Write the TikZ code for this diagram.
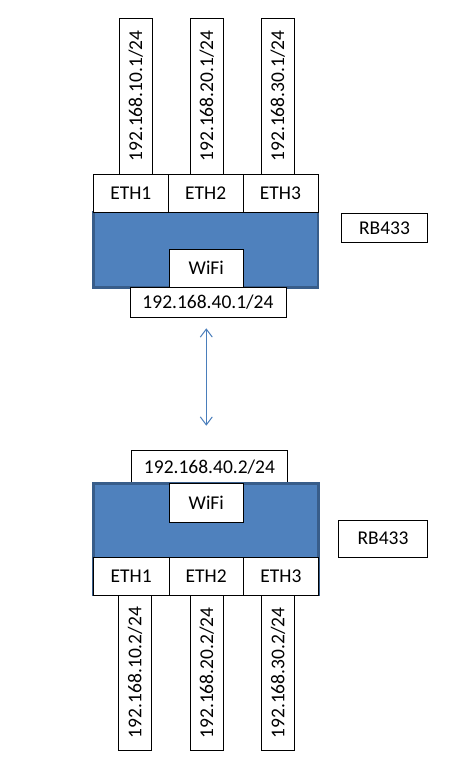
\documentclass[tikz,border=0pt]{standalone}
\usepackage{fontspec}
\setmainfont{Carlito}
\usetikzlibrary{arrows.meta}
\definecolor{boxblue}{HTML}{4F81BD}
\definecolor{boxedge}{HTML}{385D8A}
\definecolor{arrowblue}{HTML}{4A7EBB}
\begin{document}
\begin{tikzpicture}[x=1pt,y=-1pt,
  wbox/.style={draw=black,line width=0.8pt,fill=white,rectangle,inner sep=0pt,font=\fontsize{19.5}{21}\selectfont},
  vbox/.style={wbox,minimum width=33pt,minimum height=156pt},
  vtext/.style={rotate=90,font=\fontsize{19.5}{21}\selectfont},
  ethbox/.style={wbox,minimum height=38pt},
  blue/.style={draw=boxedge,line width=2.5pt,fill=boxblue}]
\useasboundingbox (0,0) rectangle (462,777);
\fill[white] (0,0) rectangle (462,777);

% ---------- top router ----------
\node[vbox] (tv1) at (135.8,96) {};
\node[vtext] (tt1) at (tv1.center) {192.168.10.1/24};
\node[vbox] (tv2) at (206.8,96) {};
\node[vtext] (tt2) at (tv2.center) {192.168.20.1/24};
\node[vbox] (tv3) at (277.8,96) {};
\node[vtext] (tt3) at (tv3.center) {192.168.30.1/24};

\path[blue] (93.3,212) rectangle (318,287.3);
\node[ethbox,minimum width=75pt] (te1) at (130.8,193) {ETH1};
\node[ethbox,minimum width=74.7pt] (te2) at (205.7,193) {ETH2};
\node[ethbox,minimum width=75pt] (te3) at (280.5,193) {ETH3};
\node[wbox,minimum width=74pt,minimum height=38pt] (twifi) at (206.3,268) {WiFi};
\node[wbox,minimum width=156pt,minimum height=30pt] (tip) at (208,302) {192.168.40.1/24};
\node[wbox,minimum width=86pt,minimum height=29pt] (trb) at (384.5,228) {RB433};

% ---------- bottom router ----------
\node[wbox,minimum width=156pt,minimum height=33pt] (bip) at (209.5,466.7) {192.168.40.2/24};
\path[blue] (93.3,483.3) rectangle (318.7,595);
\node[wbox,minimum width=74pt,minimum height=39pt] (bwifi) at (206.3,502.5) {WiFi};
\node[ethbox,minimum width=75.7pt] (be1) at (131.15,576) {ETH1};
\node[ethbox,minimum width=74.3pt] (be2) at (206.15,576) {ETH2};
\node[ethbox,minimum width=75.4pt] (be3) at (281,576) {ETH3};
\node[vbox,minimum height=155pt] (bv1) at (135,672.5) {};
\node[vtext] (bt1) at (bv1.center) {192.168.10.2/24};
\node[vbox,minimum height=155pt] (bv2) at (206.8,673) {};
\node[vtext] (bt2) at (bv2.center) {192.168.20.2/24};
\node[vbox,minimum height=155pt] (bv3) at (278,673) {};
\node[vtext] (bt3) at (bv3.center) {192.168.30.2/24};
\node[wbox,minimum width=89pt,minimum height=37pt] (brb) at (383,538.7) {RB433};

% ---------- link ----------
\coordinate (la) at (206.3,328.3);
\coordinate (lb) at (206.3,425.7);
\draw[arrowblue,line width=1pt,{Straight Barb[length=8pt,width=12pt]}-{Straight Barb[length=8pt,width=12pt]}] (la) -- (lb);
\end{tikzpicture}
\end{document}
